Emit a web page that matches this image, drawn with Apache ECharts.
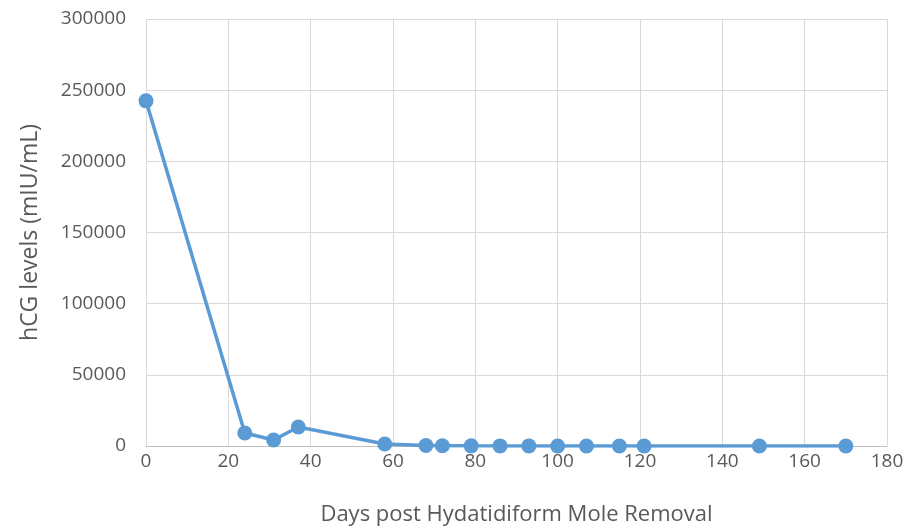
<!DOCTYPE html>
<html><head><meta charset="utf-8">
<script src="https://cdn.jsdelivr.net/npm/echarts@6/dist/echarts.min.js"></script>
<style>html,body{margin:0;padding:0;background:#fff}#c{width:918px;height:531px}</style>
</head><body><div id="c"></div>
<script>
const days = [0, 24, 31, 37, 58, 68, 72, 79, 86, 93, 100, 107, 115, 121, 149, 170];
const hcg = [242500, 9100, 4200, 13300, 1400, 400, 200, 100, 80, 60, 50, 40, 30, 20, 10, 5];
const xTitle = 'Days post Hydatidiform Mole Removal';
const yTitle = 'hCG levels (mIU/mL)';
const font = '"Open Sans", "Noto Sans", sans-serif';
const chart = echarts.init(document.getElementById('c'));
chart.setOption({
  animation: false,
  grid: {left: 146, right: 31, top: 19, bottom: 83},
  xAxis: {
    type: 'value', min: 0, max: 180, interval: 20,
    name: xTitle, nameLocation: 'middle', nameGap: 58,
    nameTextStyle: {fontFamily: font, fontSize: 22, color: '#595959'},
    axisLine: {show: true, lineStyle: {color: '#bfbfbf', width: 1}},
    axisTick: {show: false},
    axisLabel: {fontFamily: font, fontSize: 19, color: '#595959', margin: 6},
    splitLine: {show: true, lineStyle: {color: '#d9d9d9', width: 1}}
  },
  yAxis: {
    type: 'value', min: 0, max: 300000, interval: 50000,
    name: yTitle, nameLocation: 'middle', nameGap: 104,
    nameTextStyle: {fontFamily: font, fontSize: 23, color: '#595959'},
    axisLine: {show: false},
    axisTick: {show: false},
    axisLabel: {fontFamily: font, fontSize: 19, color: '#595959', margin: 20, formatter: v => String(v)},
    splitLine: {show: true, lineStyle: {color: '#d9d9d9', width: 1}}
  },
  series: [{
    type: 'line',
    data: days.map((d, i) => [d, hcg[i]]),
    symbol: 'circle', symbolSize: 15,
    lineStyle: {color: '#5b9bd5', width: 3.5},
    itemStyle: {color: '#5b9bd5'},
    z: 5
  }]
});
</script></body></html>
